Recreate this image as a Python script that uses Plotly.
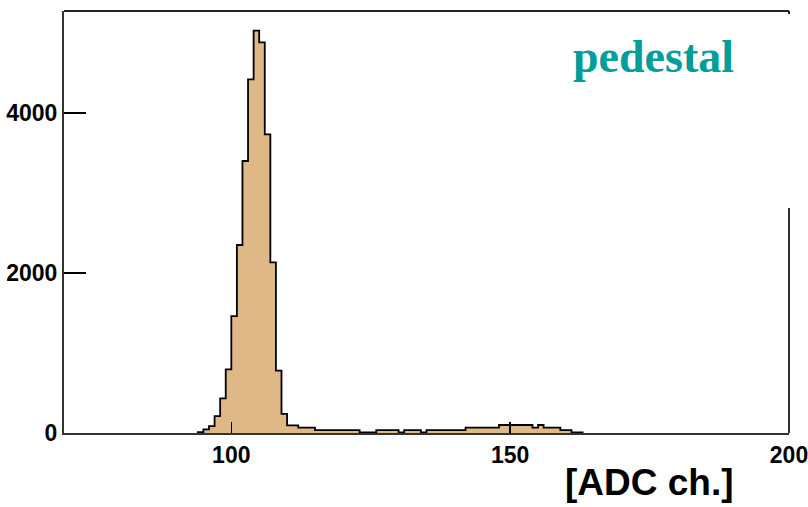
import plotly.graph_objects as go

# ADC channel bins (left edges, width 1) and counts
bin_left = list(range(94, 163))
counts = [
    10, 46, 87, 212, 433, 796,            # 94-99
    1462, 2350, 3400, 4421, 5029, 4883,   # 100-105
    3733, 2133, 779, 240, 95, 95,         # 106-111
    67, 67, 67,                           # 112-114
    37, 37, 37, 37, 37, 37, 37, 37,       # 115-122
    8, 8, 8,                              # 123-125
    37, 37, 37, 37,                       # 126-129
    8,                                    # 130
    37, 37, 37,                           # 131-133
    8,                                    # 134
    37, 37, 37, 37, 37, 37, 37,           # 135-141
    67, 67, 67, 67, 67, 67,               # 142-147
    100, 100, 100, 100, 100, 100,         # 148-153
    67, 100, 67, 67, 67,                  # 154-158
    37, 37, 8, 8,                         # 159-162
]
x_ticks = [100, 150, 200]
y_ticks = [0, 2000, 4000]
x_range = [70, 200]
y_range = [0, 5275]

# step outline built from the bins
xs = [bin_left[0]] + bin_left + [bin_left[-1] + 1, bin_left[-1] + 1]
ys = [0] + counts + [counts[-1], 0]

fig = go.Figure()
fig.add_trace(go.Scatter(
    x=xs, y=ys, mode="lines", line_shape="hv",
    line=dict(color="black", width=1.8),
    fill="tozeroy", fillcolor="#DEB887",
    hoverinfo="skip", showlegend=False,
))

axis_font = dict(family="Liberation Sans, Arial, sans-serif", size=23, color="black", weight="bold")

fig.update_layout(
    width=808, height=507,
    margin=dict(l=64, r=19, t=11, b=74, autoexpand=False),
    paper_bgcolor="white", plot_bgcolor="white",
    showlegend=False,
    xaxis=dict(
        range=x_range, tickvals=x_ticks, ticktext=[str(v) for v in x_ticks],
        ticks="inside", ticklen=11, tickwidth=1.5, tickcolor="black",
        showline=True, linecolor="#333333", linewidth=2,
        showgrid=False, zeroline=False, tickfont=axis_font, automargin=False,
        ticklabeloverflow="allow",
    ),
    yaxis=dict(
        range=y_range, tickvals=y_ticks, ticktext=[str(v) for v in y_ticks],
        ticks="inside", ticklen=22, tickwidth=1.5, tickcolor="black",
        showline=True, linecolor="#333333", linewidth=2,
        showgrid=False, zeroline=False, tickfont=axis_font, automargin=False,
        ticklabeloverflow="allow",
    ),
    shapes=[
        dict(type="line", xref="paper", yref="paper", x0=0, x1=1, y0=1, y1=1,
             line=dict(color="#222222", width=2)),
        dict(type="line", xref="paper", yref="paper", x0=1, x1=1, y0=1, y1=0.993,
             line=dict(color="#222222", width=2)),
        dict(type="line", xref="paper", yref="paper", x0=1, x1=1, y0=0.533, y1=0,
             line=dict(color="#333333", width=2)),
    ],
    annotations=[
        dict(text="pedestal", xref="paper", yref="paper", x=0.813, y=0.893,
             xanchor="center", yanchor="middle", showarrow=False,
             font=dict(family="Liberation Serif, Times New Roman, serif", size=46,
                       color="#009E9A", weight="bold")),
        dict(text="[ADC ch.]", xref="paper", yref="paper", x=0.808, y=-0.118,
             xanchor="center", yanchor="middle", showarrow=False,
             font=dict(family="Liberation Sans, Arial, sans-serif", size=37,
                       color="black", weight="bold")),
    ],
)

fig.write_html(
    "out.html",
    config={"displayModeBar": False, "staticPlot": True},
    post_script="document.body.style.margin='0';document.body.style.overflow='hidden';",
)
